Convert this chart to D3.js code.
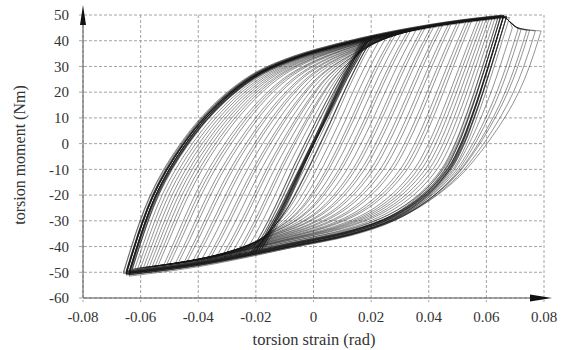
<!DOCTYPE html>
<html>
<head>
<meta charset="utf-8">
<script src="https://cdn.jsdelivr.net/npm/d3@7"></script>
<style>
  html, body { margin: 0; padding: 0; background: #fff; }
  svg { display: block; }
</style>
</head>
<body>
<svg id="chart" width="563" height="350"></svg>
<script>
// Axis ticks
const strainTicks = [-0.08, -0.06, -0.04, -0.02, 0, 0.02, 0.04, 0.06, 0.08];
const strainTickLabels = ["-0.08", "-0.06", "-0.04", "-0.02", "0", "0.02", "0.04", "0.06", "0.08"];
const momentTicks = [50, 40, 30, 20, 10, 0, -10, -20, -30, -40, -50, -60];
const momentTickLabels = ["50", "40", "30", "20", "10", "0", "-10", "-20", "-30", "-40", "-50", "-60"];

// Reversal points of each cycle: negative tip (strain, moment) and positive tip
const leftTipStrain = [
  -0.017, -0.018, -0.018, -0.019, -0.019, -0.020, -0.020, -0.020, -0.021, -0.021, -0.022, -0.022,
  -0.024, -0.026, -0.027, -0.029, -0.031, -0.032, -0.034, -0.036, -0.037, -0.039,
  -0.041, -0.042, -0.044, -0.045, -0.047, -0.048, -0.050, -0.051, -0.052, -0.054,
  -0.055, -0.056, -0.057, -0.058, -0.059, -0.060, -0.061, -0.062,
  -0.063, -0.064, -0.063, -0.064, -0.065, -0.064, -0.065, -0.064, -0.066,
  -0.065, -0.064, -0.065, -0.066, -0.064, -0.065, -0.063, -0.065, -0.064,
  -0.064, -0.065, -0.064, -0.065, -0.065, -0.064, -0.065
];
const leftTipMoment = [
  -40.5, -41, -41, -41.5, -41.5, -42, -41.8, -42, -42.3, -42, -42.5, -42.5,
  -42.8, -43.2, -43.4, -43.8, -44.2, -44.3, -44.6, -44.9, -45.1, -45.4,
  -45.7, -45.8, -46.1, -46.3, -46.6, -46.7, -47, -47.1, -47.3, -47.5,
  -47.7, -47.8, -47.9, -48.1, -48.2, -48.3, -48.5, -48.6,
  -49, -49.5, -48.8, -50, -49.5, -50.5, -50, -51, -50,
  -50.5, -51.5, -49.5, -50.5, -51, -50, -49.5, -51, -50.5,
  -50, -50.5, -50, -51, -50.5, -50, -50.5
];
const rightTipStrain = [
  0.017, 0.018, 0.018, 0.019, 0.019, 0.019, 0.020, 0.020, 0.021, 0.021, 0.021, 0.022,
  0.024, 0.026, 0.028, 0.029, 0.031, 0.033, 0.034, 0.036, 0.038, 0.039,
  0.041, 0.042, 0.044, 0.045, 0.047, 0.048, 0.050, 0.051, 0.053, 0.054,
  0.055, 0.057, 0.058, 0.059, 0.060, 0.061, 0.062, 0.063,
  0.064, 0.065, 0.065, 0.066, 0.064, 0.066, 0.065, 0.067, 0.066,
  0.066, 0.067, 0.065, 0.066, 0.068, 0.066, 0.067, 0.066, 0.067,
  0.069, 0.071, 0.072, 0.074, 0.075, 0.077, 0.079
];
const rightTipMoment = [
  40.5, 41, 41, 41.3, 41.5, 41.5, 42, 41.8, 42, 42.2, 42, 42.5,
  42.3, 42.8, 43.2, 43.4, 43.9, 44.3, 44.5, 44.9, 45.3, 45.5,
  45.8, 46, 46.3, 46.5, 46.8, 47, 47.3, 47.5, 47.7, 47.8,
  48, 48.1, 48.3, 48.4, 48.5, 48.6, 48.7, 48.8,
  49, 49.2, 49.5, 49.5, 48.8, 49.8, 49.5, 49.5, 50,
  49.6, 49.3, 49.8, 49.5, 49, 49.8, 49.4, 49.7, 49.2,
  45, 44.5, 44.2, 44, 44, 43.8, 43.8
];

// Crest of the loading path; the last cycles drop past it to their tips
const crestStrain = [0.066, 0.068, 0.0705];
const crestMoment = [49.3, 47.5, 45.2];

// Branch shapes: fraction of the moment range travelled -> fraction of the strain range travelled
const branchR    = [0, 0.1, 0.2, 0.3, 0.4, 0.5, 0.6, 0.7, 0.78, 0.84, 0.89, 0.93, 0.96, 0.98, 0.995, 1];
const narrowS    = [0, 0.12, 0.225, 0.32, 0.41, 0.505, 0.6, 0.695, 0.77, 0.83, 0.885, 0.925, 0.958, 0.98, 0.995, 1];
const wideRiseS  = [0, 0.021, 0.0436, 0.0706, 0.106, 0.15, 0.2035, 0.273, 0.351, 0.447, 0.565, 0.683, 0.793, 0.882, 0.967, 1];
const wideFallS  = [0, 0.0205, 0.0413, 0.063, 0.0865, 0.113, 0.149, 0.211, 0.293, 0.405, 0.565, 0.693, 0.8, 0.89, 0.972, 1];
// share of the extra strain past the crest that an unloading branch still carries
const lateFallShift = [1, 1, 0.97, 0.88, 0.72, 0.52, 0.32, 0.14, 0.04, 0, 0, 0, 0, 0, 0, 0];

const svg = d3.select("#chart");
const x = d3.scaleLinear().domain([-0.08, 0.08]).range([83, 544]);
const y = d3.scaleLinear().domain([-60, 50]).range([298, 15]);

const serif = "'Liberation Serif', 'Times New Roman', serif";

// Dashed grid
const grid = svg.append("g").attr("stroke", "#9a9a9a").attr("stroke-width", 0.9)
  .attr("stroke-dasharray", "3,2").attr("fill", "none");
grid.selectAll("line.h").data(momentTicks).join("line").attr("class", "h")
  .attr("x1", x(-0.08) - 4).attr("x2", x(0.08))
  .attr("y1", d => y(d)).attr("y2", d => y(d));
grid.selectAll("line.v").data(strainTicks).join("line").attr("class", "v")
  .attr("x1", d => x(d)).attr("x2", d => x(d))
  .attr("y1", y(50)).attr("y2", y(-60) + 4);

// Hysteresis loops
const line = d3.line().x(d => x(d[0])).y(d => y(d[1])).curve(d3.curveCatmullRom.alpha(0.5));

// how far a cycle's shape has moved from the narrow band towards the full loop
function widthWeight(w) {
  return Math.sqrt(Math.max(0, Math.min(1, (w - 0.04) / 0.09)));
}
// one half-cycle between two reversal points
function branch(x0, m0, x1, m1, wideS, w) {
  return branchR.map((r, k) => {
    const s = (1 - w) * narrowS[k] + w * wideS[k];
    return [x0 + s * (x1 - x0), m0 + r * (m1 - m0)];
  });
}

const paths = [];
for (let i = 0; i < leftTipStrain.length; i++) {
  const xl = leftTipStrain[i], ml = leftTipMoment[i];
  const xr = rightTipStrain[i], mr = rightTipMoment[i];
  const j = Math.min(i + 1, leftTipStrain.length - 1);
  const xn = leftTipStrain[j], mn = leftTipMoment[j];
  if (xr > crestStrain[0] + 0.0025) {
    // loading over the crest, then dropping to the tip
    const up = branch(xl, ml, crestStrain[0], crestMoment[0], wideRiseS, widthWeight(crestStrain[0] - xl));
    for (let k = 1; k < crestStrain.length; k++) {
      if (crestStrain[k] < xr - 0.0005) up.push([crestStrain[k], crestMoment[k]]);
    }
    up.push([xr, mr]);
    paths.push(up);
    // unloading: steep start offset from the main path, merging into it lower down
    const down = branch(crestStrain[0], mr, xn, mn, wideFallS, widthWeight(crestStrain[0] - xn));
    down.forEach((p, k) => { p[0] += (xr - crestStrain[0]) * lateFallShift[k]; });
    paths.push(down);
  } else {
    paths.push(branch(xl, ml, xr, mr, wideRiseS, widthWeight(xr - xl)));
    paths.push(branch(xr, mr, xn, mn, wideFallS, widthWeight(xr - xn)));
  }
}

svg.append("g").attr("fill", "none").attr("stroke", "#151515")
  .attr("stroke-width", 0.55).attr("stroke-opacity", 0.85)
  .selectAll("path").data(paths).join("path").attr("d", line);

// Axes with arrow heads
const axes = svg.append("g");
axes.append("line").attr("x1", x(-0.08)).attr("x2", x(-0.08))
  .attr("y1", y(-60)).attr("y2", 12).attr("stroke", "#555").attr("stroke-width", 1);
axes.append("path").attr("d", `M${x(-0.08)},5 L${x(-0.08) - 3},25 L${x(-0.08) + 3},25 Z`).attr("fill", "#111");
axes.append("line").attr("x1", x(-0.08)).attr("x2", 532)
  .attr("y1", y(-60)).attr("y2", y(-60)).attr("stroke", "#555").attr("stroke-width", 1);
axes.append("path").attr("d", `M552,${y(-60)} L530,${y(-60) - 3.5} L530,${y(-60) + 3.5} Z`).attr("fill", "#111");

// Tick labels
svg.append("g").selectAll("text").data(momentTicks).join("text")
  .attr("x", 69).attr("y", d => y(d)).attr("dy", "0.35em")
  .attr("text-anchor", "end").attr("font-family", serif).attr("font-size", 15)
  .attr("fill", "#333").text((d, i) => momentTickLabels[i]);
svg.append("g").selectAll("text").data(strainTicks).join("text")
  .attr("x", d => x(d)).attr("y", 317).attr("dy", "0.35em")
  .attr("text-anchor", "middle").attr("font-family", serif).attr("font-size", 15)
  .attr("fill", "#333").text((d, i) => strainTickLabels[i]);

// Axis titles
svg.append("text").attr("x", 314).attr("y", 339).attr("dy", "0.35em")
  .attr("text-anchor", "middle").attr("font-family", serif).attr("font-size", 16.5)
  .attr("fill", "#333").text("torsion strain (rad)");
svg.append("text").attr("transform", "translate(19,155) rotate(-90)").attr("dy", "0.35em")
  .attr("text-anchor", "middle").attr("font-family", serif).attr("font-size", 16)
  .attr("fill", "#333").text("torsion moment (Nm)");
</script>
</body>
</html>
